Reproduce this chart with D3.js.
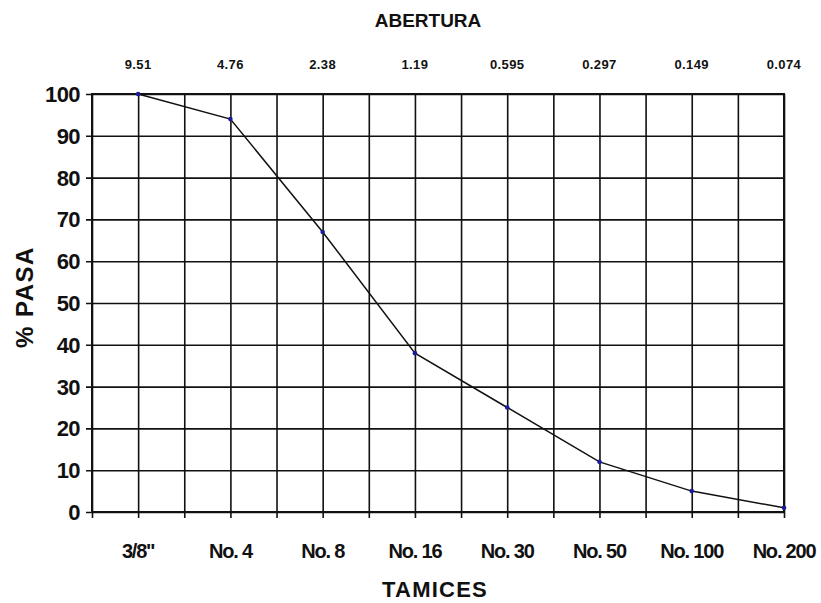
<!DOCTYPE html>
<html>
<head>
<meta charset="utf-8">
<script src="https://cdn.jsdelivr.net/npm/d3@7"></script>
<style>
  body { margin: 0; background: #fff; }
  text { font-family: "Liberation Sans", Arial, sans-serif; font-weight: bold; fill: #111; }
</style>
</head>
<body>
<div id="plot"></div>
<script>
// tamices y aberturas (mm)
const tamices = ['3/8"', "No. 4", "No. 8", "No. 16", "No. 30", "No. 50", "No. 100", "No. 200"];
const aberturas = ["9.51", "4.76", "2.38", "1.19", "0.595", "0.297", "0.149", "0.074"];
const pasa = [100, 94, 67, 38, 25, 12, 5, 1];
const yTicks = [0, 10, 20, 30, 40, 50, 60, 70, 80, 90, 100];

const W = 821, H = 603;
const margin = { top: 94, right: 37, bottom: 91, left: 92 };
const width = W - margin.left - margin.right;
const height = H - margin.top - margin.bottom;

const svg = d3.select("#plot").append("svg")
  .attr("width", W)
  .attr("height", H)
  .append("g")
  .attr("transform", "translate(" + margin.left + "," + margin.top + ")");

const xScale = d3.scaleLinear().domain([-0.5, tamices.length - 1]).range([0, width]);
const yScale = d3.scaleLinear().domain([0, 100]).range([height, 0]);

// vertical grid, ticks stick out under the plot
const xGrid = d3.range(-0.5, tamices.length - 0.99, 0.5);
svg.append("g")
  .attr("transform", "translate(0," + (height + 6) + ")")
  .call(d3.axisBottom(xScale).tickValues(xGrid).tickSize(-(height + 6)).tickFormat(""))
  .call(g => g.select(".domain").remove())
  .call(g => g.selectAll("line").attr("stroke", "#111").attr("stroke-width", 1.6));

// horizontal grid, ticks stick out to the left
svg.append("g")
  .attr("transform", "translate(-6,0)")
  .call(d3.axisLeft(yScale).tickValues(yTicks).tickSize(-(width + 6)).tickFormat(""))
  .call(g => g.select(".domain").remove())
  .call(g => g.selectAll("line").attr("stroke", "#111").attr("stroke-width", 1.6));

// border
svg.append("rect")
  .attr("x", 0).attr("y", 0)
  .attr("width", width).attr("height", height)
  .attr("fill", "none").attr("stroke", "#111").attr("stroke-width", 2);

// y tick labels
svg.selectAll(".ylab").data(yTicks).enter().append("text")
  .attr("x", -12)
  .attr("y", d => yScale(d))
  .attr("dy", "0.36em")
  .attr("text-anchor", "end")
  .style("font-size", "22px")
  .style("letter-spacing", "-0.6px")
  .text(d => d);

// x tick labels
svg.selectAll(".xlab").data(tamices).enter().append("text")
  .attr("x", (d, i) => xScale(i))
  .attr("y", height + 46)
  .attr("text-anchor", "middle")
  .style("font-size", "20px")
  .style("letter-spacing", "-1.2px")
  .text(d => d);

// aberturas on top
svg.selectAll(".alab").data(aberturas).enter().append("text")
  .attr("x", (d, i) => xScale(i))
  .attr("y", -25)
  .attr("text-anchor", "middle")
  .style("font-size", "13px")
  .style("letter-spacing", "0.4px")
  .text(d => d);

// titles
svg.append("text")
  .attr("x", 428 - margin.left)
  .attr("y", 27 - margin.top)
  .attr("text-anchor", "middle")
  .style("font-size", "19px")
  .text("ABERTURA");

svg.append("text")
  .attr("x", 435 - margin.left)
  .attr("y", 597 - margin.top)
  .attr("text-anchor", "middle")
  .style("font-size", "22px")
  .style("letter-spacing", "1.2px")
  .text("TAMICES");

svg.append("text")
  .attr("transform", "translate(" + (33 - margin.left) + "," + (297 - margin.top) + ") rotate(-90)")
  .attr("text-anchor", "middle")
  .style("font-size", "24px")
  .style("letter-spacing", "1.5px")
  .text("% PASA");

// curve
const line = d3.line()
  .x((d, i) => xScale(i))
  .y(d => yScale(d));

svg.append("path")
  .datum(pasa)
  .attr("d", line)
  .attr("fill", "none")
  .attr("stroke", "#111")
  .attr("stroke-width", 1.5);

svg.selectAll(".pt").data(pasa).enter().append("circle")
  .attr("cx", (d, i) => xScale(i))
  .attr("cy", d => yScale(d))
  .attr("r", 2.3)
  .attr("fill", "#1a1a9a");
</script>
</body>
</html>
